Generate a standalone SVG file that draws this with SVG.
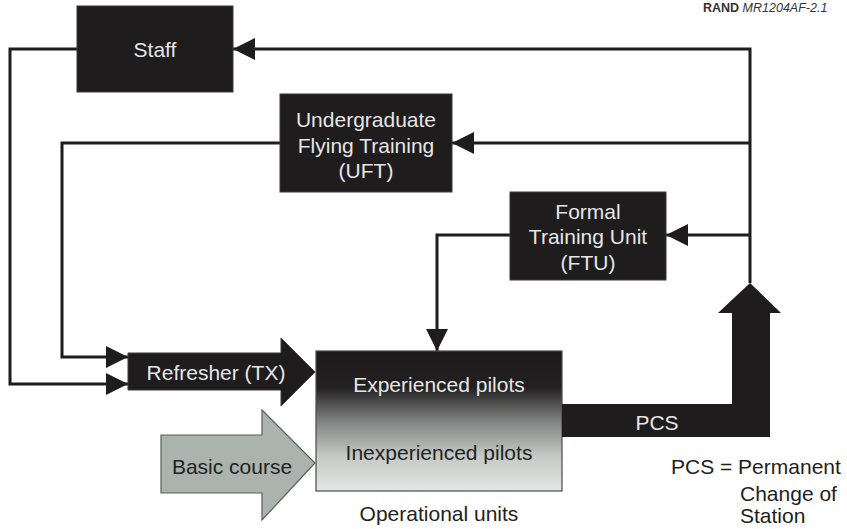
<svg xmlns="http://www.w3.org/2000/svg" width="847" height="529" viewBox="0 0 847 529">
<defs>
<style>
.box{fill:#1e1c1c;stroke:#3a3838;stroke-width:1}
.lt{font-family:"Liberation Sans",Arial,sans-serif;font-size:21px;fill:#e6e6e6;text-anchor:middle}
.dk{font-family:"Liberation Sans",Arial,sans-serif;font-size:21px;fill:#222;text-anchor:middle}
.lg{font-family:"Liberation Sans",Arial,sans-serif;font-size:21px;fill:#1e1e1e}
.ln{fill:none;stroke:#1e1c1c;stroke-width:3}
</style>
<marker id="ah" markerUnits="userSpaceOnUse" markerWidth="22" markerHeight="22" refX="20" refY="10" orient="auto" viewBox="0 0 20 20">
<path d="M0,0 L20,10 L0,20 z" fill="#1e1c1c"/>
</marker>
<linearGradient id="og" x1="0" y1="0" x2="0" y2="1">
<stop offset="0" stop-color="#1b1919"/>
<stop offset="0.26" stop-color="#222020"/>
<stop offset="0.5" stop-color="#7f8381"/>
<stop offset="0.75" stop-color="#c4c9c5"/>
<stop offset="1" stop-color="#e3e7e4"/>
</linearGradient>
</defs>
<rect width="847" height="529" fill="#ffffff"/>
<text x="703" y="12" font-family="'Liberation Sans',Arial,sans-serif" font-size="12.5" fill="#333"><tspan font-weight="bold">RAND</tspan> <tspan font-style="italic">MR1204AF-2.1</tspan></text>

<g id="connectors">
<path class="ln" d="M750,283 L750,49 L233,49" marker-end="url(#ah)"/>
<path class="ln" d="M750,143 L452,143" marker-end="url(#ah)"/>
<path class="ln" d="M750,235 L666,235" marker-end="url(#ah)"/>
<path class="ln" d="M77,49 L10,49 L10,384 L128,384" marker-end="url(#ah)"/>
<path class="ln" d="M280,143 L62,143 L62,357 L128,357" marker-end="url(#ah)"/>
<path class="ln" d="M510,235 L437,235 L437,351" marker-end="url(#ah)"/>
</g>

<g id="staff">
<rect class="box" x="77" y="6" width="156" height="86"/>
<text class="lt" x="155" y="57">Staff</text>
</g>

<g id="uft">
<rect class="box" x="280" y="94" width="172" height="98"/>
<text class="lt" x="366" y="127">Undergraduate</text>
<text class="lt" x="366" y="153">Flying Training</text>
<text class="lt" x="366" y="178">(UFT)</text>
</g>

<g id="ftu">
<rect class="box" x="510" y="192" width="156" height="88"/>
<text class="lt" x="588" y="219">Formal</text>
<text class="lt" x="588" y="244">Training Unit</text>
<text class="lt" x="588" y="270">(FTU)</text>
</g>

<g id="refresher">
<polygon class="box" points="128,353 281,353 281,338 315,372 281,406 281,390 128,390"/>
<text class="lt" x="216" y="380">Refresher (TX)</text>
</g>

<g id="basic">
<polygon points="161,435 262,435 262,410 315,463 262,520 262,493 161,493" fill="#abb3ae" stroke="#5a5e5c" stroke-width="1.2"/>
<text class="dk" x="232" y="474" fill="#2a2a2a">Basic course</text>
</g>

<g id="operational">
<rect x="316" y="351" width="246" height="140" fill="url(#og)" stroke="#4a4a4a" stroke-width="1.2"/>
<text class="lt" x="439" y="392">Experienced pilots</text>
<text class="dk" x="439" y="460">Inexperienced pilots</text>
<text class="dk" x="439" y="521">Operational units</text>
</g>

<g id="pcs">
<polygon points="562,404 732,404 732,313 718,313 750,283 781,313 770,313 770,437 562,437" fill="#1e1c1c"/>
<text class="lt" x="657" y="430">PCS</text>
</g>

<g id="legend">
<text class="lg" x="671" y="474">PCS = Permanent</text>
<text class="lg" x="740" y="501">Change of</text>
<text class="lg" x="740" y="523">Station</text>
</g>
</svg>
